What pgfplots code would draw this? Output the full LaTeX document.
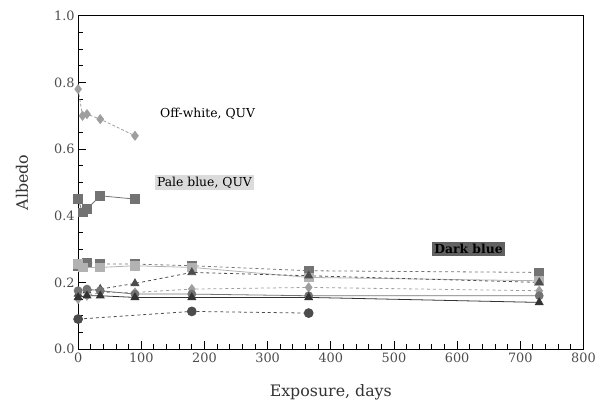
\documentclass[border=0pt]{standalone}
\usepackage{fontspec}
\setmainfont{DejaVu Serif}
\usepackage{pgfplots}
\pgfplotsset{compat=1.18}
\definecolor{g1}{gray}{0.62}
\definecolor{g2}{gray}{0.45}
\definecolor{g3}{gray}{0.30}
\definecolor{g4}{gray}{0.70}
\definecolor{g5}{gray}{0.20}
\definecolor{boxdark}{gray}{0.38}
\definecolor{boxlight}{gray}{0.86}
\begin{document}
\begin{tikzpicture}
\begin{axis}[
  scale only axis, width=511pt, height=337pt,
  xmin=0, xmax=800, ymin=0, ymax=1,
  xtick={0,100,...,800}, ytick={0,0.2,0.4,0.6,0.8,1.0},
  minor x tick num=4, minor y tick num=3,
  tick align=inside, xtick pos=bottom, ytick pos=left,
  major tick length=8pt, minor tick length=5pt,
  every tick/.style={black, line width=0.9pt},
  axis line style={line width=1pt, black},
  /pgf/number format/assume math mode=true,
  yticklabel style={/pgf/number format/.cd, fixed, fixed zerofill, precision=1, assume math mode=true},
  xticklabel style={/pgf/number format/.cd, fixed, 1000 sep={}, assume math mode=true},
  tick label style={font=\fontsize{13}{15}\selectfont, gray!60!black},
  xlabel={Exposure, days}, ylabel={Albedo},
  every axis y label/.style={at={(axis description cs:-0.111,0.5)}, rotate=90, anchor=center, font=\fontsize{16}{18}\selectfont, text=gray!40!black},
  every axis x label/.style={at={(axis description cs:0.5,-0.112)}, anchor=north, yshift=5pt, font=\fontsize{16}{18}\selectfont, text=gray!40!black},
  clip=false,
]
% Off-white, QUV
\addplot[g1, densely dashed, line width=0.8pt, mark=diamond*, mark size=4.5pt, mark options={solid, fill=g1}]
 coordinates {(0,0.78) (7,0.70) (14,0.705) (35,0.69) (90,0.64)};
% Pale blue, QUV
\addplot[g2, line width=0.8pt, mark=square*, mark size=4.5pt, mark options={solid, fill=g2}]
 coordinates {(0,0.45) (7,0.41) (14,0.42) (35,0.46) (90,0.45)};
% Dark blue outdoor series
\addplot[g2, dashed, line width=0.8pt, mark=square*, mark size=4.5pt, mark options={solid, fill=g2}]
 coordinates {(0,0.25) (14,0.26) (35,0.255) (90,0.255) (180,0.25) (365,0.235) (730,0.23)};
\addplot[g4, line width=0.8pt, mark=square*, mark size=4.5pt, mark options={solid, fill=g4}]
 coordinates {(0,0.255) (7,0.245) (35,0.245) (90,0.25) (180,0.245) (365,0.215) (730,0.205)};
\addplot[g3, dashed, line width=0.8pt, mark=triangle*, mark size=4.5pt, mark options={solid, fill=g3}]
 coordinates {(0,0.165) (14,0.175) (35,0.18) (90,0.197) (180,0.23) (365,0.22) (730,0.2)};
\addplot[g1, dashed, line width=0.8pt, mark=diamond*, mark size=4.5pt, mark options={solid, fill=g1}]
 coordinates {(0,0.15) (14,0.16) (35,0.17) (90,0.17) (180,0.18) (365,0.185) (730,0.175)};
\addplot[g2, line width=0.8pt, mark=*, mark size=4pt, mark options={solid, fill=g2}]
 coordinates {(0,0.175) (14,0.18) (35,0.175) (90,0.165) (180,0.165) (365,0.16) (730,0.16)};
\addplot[g5, line width=0.8pt, mark=triangle*, mark size=4.5pt, mark options={solid, fill=g5}]
 coordinates {(0,0.155) (14,0.16) (35,0.16) (90,0.155) (180,0.155) (365,0.155) (730,0.14)};
\addplot[g3, dashed, line width=0.8pt, mark=*, mark size=4.5pt, mark options={solid, fill=g3}]
 coordinates {(0,0.09) (180,0.113) (365,0.108)};
\node[font=\fontsize{12.5}{14}\selectfont, text=black] at (axis cs:205,0.706) {Off-white, QUV};
\node[font=\fontsize{12.5}{14}\selectfont, text=black, fill=boxlight, inner sep=2pt] at (axis cs:200,0.50) {Pale blue, QUV};
\node[font=\bfseries\fontsize{12.5}{14}\selectfont, text=black, fill=boxdark, inner sep=2.5pt] at (axis cs:618,0.30) {Dark blue};
\end{axis}
\useasboundingbox ([shift={(-79pt,-54pt)}]current axis.south west) rectangle ([shift={(9pt,16pt)}]current axis.north east);
\end{tikzpicture}
\end{document}
